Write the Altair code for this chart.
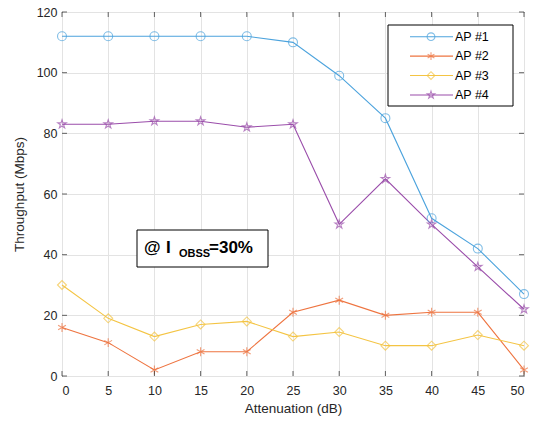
import altair as alt
import pandas as pd

attenuation = [0, 5, 10, 15, 20, 25, 30, 35, 40, 45, 50]
ap1 = [112, 112, 112, 112, 112, 110, 99, 85, 52, 42, 27]
ap2 = [16, 11, 2, 8, 8, 21, 25, 20, 21, 21, 2]
ap3 = [30, 19, 13, 17, 18, 13, 14.5, 10, 10, 13.5, 10]
ap4 = [83, 83, 84, 84, 82, 83, 50, 65, 50, 36, 22]
series_names = ["AP #1", "AP #2", "AP #3", "AP #4"]
colors = ["#4CA3DD", "#EE7440", "#F4C443", "#9A4DAA"]

x_ticks = [0, 5, 10, 15, 20, 25, 30, 35, 40, 45, 50]
y_ticks = [0, 20, 40, 60, 80, 100, 120]

STAR = ("M0,-1L0.223,-0.307L0.951,-0.309L0.361,0.117L0.588,0.809L0,0.38"
        "L-0.588,0.809L-0.361,0.117L-0.951,-0.309L-0.223,-0.307Z")
AST = "M0,-1L0,1M-0.87,-0.5L0.87,0.5M-0.87,0.5L0.87,-0.5"
shapes = ["circle", AST, "diamond", STAR]

rows = []
for name, vals in zip(series_names, [ap1, ap2, ap3, ap4]):
    for a, v in zip(attenuation, vals):
        rows.append({"Attenuation": a, "Throughput": v, "Series": name})
df = pd.DataFrame(rows)

W, H = 462, 364
FONT = "Liberation Sans"
AX = "#262626"

xs = alt.Scale(domain=[0, 50], nice=False, zero=False)
ys = alt.Scale(domain=[0, 120], nice=False)
cs = alt.Scale(domain=series_names, range=colors)
ss = alt.Scale(domain=series_names, range=shapes)

xaxis = alt.Axis(values=x_ticks, title="Attenuation (dB)", grid=True,
                 ticks=False, domain=False, labelPadding=8, titlePadding=5)
yaxis = alt.Axis(values=y_ticks, title="Throughput (Mbps)", grid=True,
                 ticks=False, domain=False, labelPadding=5, titlePadding=10)
X = alt.X("Attenuation:Q", scale=xs, axis=xaxis)
Y = alt.Y("Throughput:Q", scale=ys, axis=yaxis)

base = alt.Chart(df).encode(
    x=X, y=Y,
    color=alt.Color("Series:N", scale=cs, legend=None),
)
lines = base.mark_line(strokeWidth=1.1)
points = base.mark_point(filled=False, strokeWidth=1.1, size=80).encode(
    shape=alt.Shape("Series:N", scale=ss, legend=None))

xt = pd.DataFrame({"Attenuation": x_ticks})
yt = pd.DataFrame({"Throughput": y_ticks})
tick_x_bottom = alt.Chart(xt).mark_tick(color=AX, size=5, thickness=1).encode(
    x=X, y=alt.value(H - 2.5))
tick_x_top = alt.Chart(xt).mark_tick(color=AX, size=5, thickness=1).encode(
    x=X, y=alt.value(2.5))
tick_y_left = alt.Chart(yt).mark_tick(color=AX, size=5, thickness=1).encode(
    y=Y, x=alt.value(2.5))
tick_y_right = alt.Chart(yt).mark_tick(color=AX, size=5, thickness=1).encode(
    y=Y, x=alt.value(W - 2.5))

# annotation box
ann = pd.DataFrame({"a": [0]})
ann_box = alt.Chart(ann).mark_rect(fill="white", stroke="black", strokeWidth=1).encode(
    x=alt.value(75), x2=alt.value(206), y=alt.value(218), y2=alt.value(255))


def label(txt, x, y, size):
    return alt.Chart(ann).mark_text(text=txt, font=FONT, fontSize=size, fontWeight="bold",
                                    align="left", baseline="middle", color="black").encode(
        x=alt.value(x), y=alt.value(y))


t0 = label("@", 82, 236, 17)
t1 = label("I", 104, 236, 17)
t2 = label("OBSS", 117, 242, 11)
t3 = label("=30%", 147, 236, 17)

# legend
leg = pd.DataFrame({"Series": series_names})
ly = alt.Y("Series:N", scale=alt.Scale(type="point", domain=series_names,
                                       range=[24.7, 83], padding=0), axis=None)
leg_box = alt.Chart(ann).mark_rect(fill="white", stroke="black", strokeWidth=1).encode(
    x=alt.value(326), x2=alt.value(451), y=alt.value(13), y2=alt.value(94))
leg_rule = alt.Chart(leg).mark_rule(strokeWidth=1.1).encode(
    x=alt.value(348), x2=alt.value(391), y=ly,
    color=alt.Color("Series:N", scale=cs, legend=None))
leg_pt = alt.Chart(leg).mark_point(filled=False, strokeWidth=1.1, size=60).encode(
    x=alt.value(369), y=ly,
    color=alt.Color("Series:N", scale=cs, legend=None),
    shape=alt.Shape("Series:N", scale=ss, legend=None))
leg_txt = alt.Chart(leg).mark_text(font=FONT, fontSize=12.5, align="left",
                                   baseline="middle", color="black").encode(
    x=alt.value(393), y=ly, text="Series:N")

main = alt.layer(lines, points, tick_x_bottom, tick_x_top, tick_y_left, tick_y_right,
                 ann_box, t0, t1, t2, t3)
legend = alt.layer(leg_box, leg_rule, leg_pt, leg_txt)

chart = alt.layer(main, legend).resolve_scale(y="independent").properties(
    width=W, height=H,
    background="white",
    autosize=alt.AutoSizeParams(type="none"),
    padding={"left": 62, "top": 12, "right": 9, "bottom": 48},
).configure_view(stroke="black", strokeWidth=1).configure_axis(
    labelFont=FONT, titleFont=FONT, labelFontSize=12.5, titleFontSize=13.5,
    labelColor=AX, titleColor=AX, titleFontWeight="normal",
    gridColor="#E3E3E3", gridWidth=1,
)

chart.save("out.html", embed_options={"renderer": "svg", "actions": False})
